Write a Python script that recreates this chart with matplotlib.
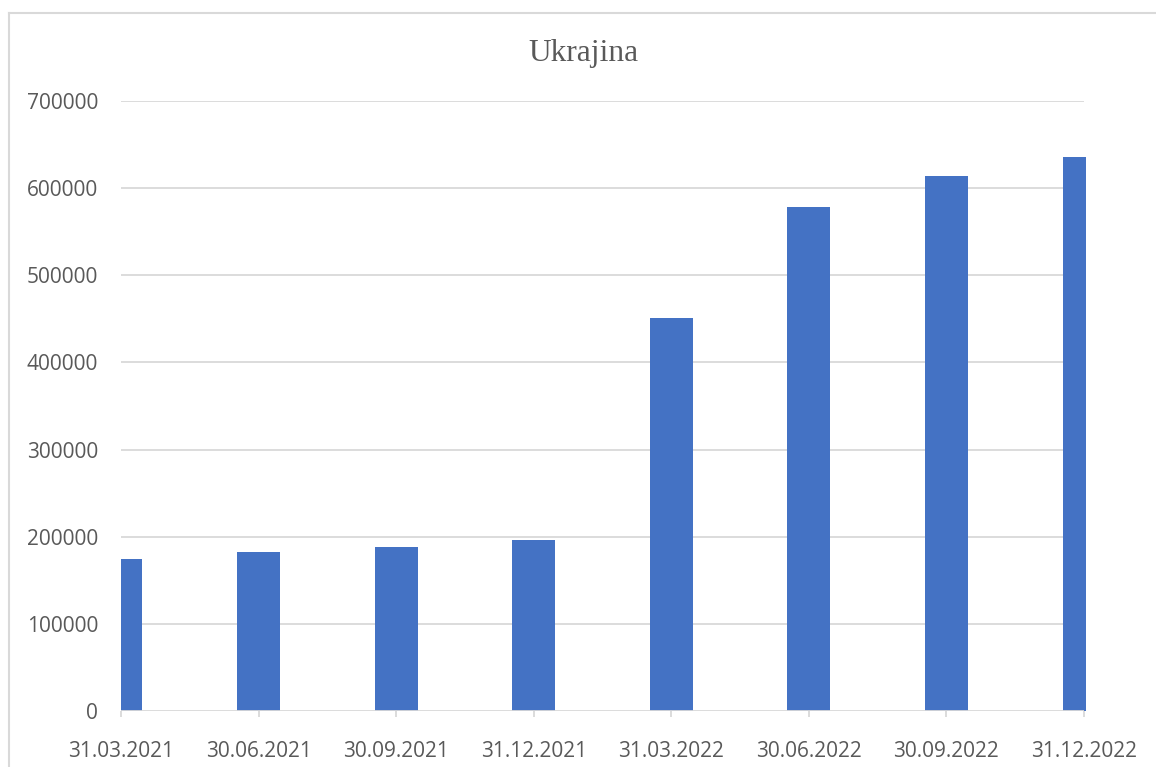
import matplotlib
matplotlib.use("Agg")
import matplotlib.pyplot as plt
from matplotlib.lines import Line2D

# Quarter-end reporting dates and counts for Ukraine
dates = ["31.03.2021", "30.06.2021", "30.09.2021", "31.12.2021",
         "31.03.2022", "30.06.2022", "30.09.2022", "31.12.2022"]
values = [175000, 182000, 188500, 196000, 451500, 578500, 614500, 636000]
y_ticks = [0, 100000, 200000, 300000, 400000, 500000, 600000, 700000]
title = "Ukrajina"

W, H = 1156, 767
fig = plt.figure(figsize=(W / 100, H / 100), dpi=100)

grid_col = "#d9d9d9"
text_col = "#595959"
bar_col = "#4472C4"

# plot area in pixels
left_px, right_tick_px, bottom_px, top_px = 121, 1084, 711, 101
unit_px = (right_tick_px - left_px) / (len(dates) - 1)
x_max = (len(dates) - 1) + 2 / unit_px
ax = fig.add_axes([left_px / W, (H - bottom_px) / H,
                   (x_max * unit_px) / W, (bottom_px - top_px) / H])

x = list(range(len(dates)))
ax.bar(x, values, width=0.3125, color=bar_col, zorder=3)

ax.set_xlim(0, x_max)
ax.set_ylim(0, 700000)

# horizontal gridlines spanning the category range
ax.hlines(y_ticks[1:], 0, len(dates) - 1, colors=grid_col, linewidth=1.3, zorder=1)
ax.hlines([0], 0, len(dates) - 1, colors=grid_col, linewidth=1.3, zorder=4)

for s in ax.spines.values():
    s.set_visible(False)

ax.set_yticks(y_ticks)
ax.set_yticklabels([str(v) for v in y_ticks])
ax.set_xticks(x)
ax.set_xticklabels(dates)

ax.tick_params(axis="y", length=0, pad=16.5, labelsize=15, labelcolor=text_col)
ax.tick_params(axis="x", length=4.3, width=1.3, color=grid_col, pad=17,
               labelsize=15, labelcolor=text_col)
for lab in ax.get_xticklabels() + ax.get_yticklabels():
    lab.set_fontfamily("Open Sans")

# chart frame (left and top edges)
fig.add_artist(Line2D([9 / W, 9 / W], [0, 1 - 13 / H], transform=fig.transFigure,
                      color=grid_col, linewidth=1.5))
fig.add_artist(Line2D([9 / W, 1], [1 - 13 / H, 1 - 13 / H], transform=fig.transFigure,
                      color=grid_col, linewidth=1.5))

fig.text(583 / W, 1 - 61 / H, title, ha="center", va="baseline",
         fontsize=22.6, family="Liberation Serif", color=text_col)

fig.savefig("out.png", dpi=100)
